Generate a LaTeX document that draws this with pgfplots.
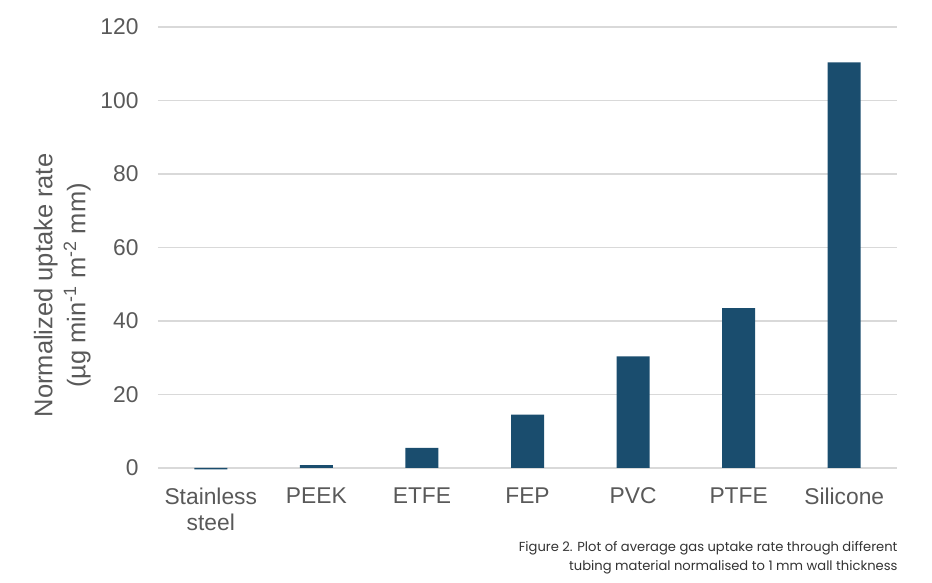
\documentclass[border=0pt]{standalone}
\usepackage{pgfplots}
\pgfplotsset{compat=1.18}
\usepackage{fontspec}
\setmainfont{Liberation Sans}
\newfontfamily\capfont{Poppins}
\definecolor{barc}{HTML}{1A4D6E}
\definecolor{txt}{HTML}{595959}
\definecolor{gridc}{HTML}{D9D9D9}
\begin{document}
\begin{tikzpicture}
\useasboundingbox (0pt,0pt) rectangle (932pt,583pt);
\begin{axis}[
  at={(158pt,115pt)}, anchor=south west,
  scale only axis, width=739pt, height=441pt,
  xmin=-0.5, xmax=6.5, ymin=0, ymax=120,
  ytick={0,20,...,120},
  xtick={0,...,6},
  xticklabels={{Stainless\\steel},PEEK,ETFE,FEP,PVC,PTFE,Silicone},
  xticklabel style={align=center, font=\fontsize{22.8}{26}\selectfont, text=txt, yshift=-16pt},
  yticklabel style={font=\fontsize{22.8}{26}\selectfont, text=txt, xshift=-16pt},
  /pgf/number format/assume math mode=true,
  axis line style={draw=none},
  major tick length=0pt,
  ymajorgrids, grid style={draw=gridc, line width=1.3pt},
  clip=false,
  ylabel={Normalized uptake rate\\(µg min\textsuperscript{-1} m\textsuperscript{-2} mm)},
  ylabel style={align=center, font=\fontsize{25.5}{33}\selectfont, text=txt, yshift=3pt, xshift=-38pt},
]
\addplot[ybar, bar width=33pt, fill=barc, draw=none] coordinates {
 (0,-0.4) (1,0.8) (2,5.5) (3,14.5) (4,30.4) (5,43.5) (6,110.4)
};
\end{axis}
\node[anchor=north east, align=right, font=\capfont\fontsize{13.1}{19}\selectfont, text=black!80] at (901pt,45pt) {Figure 2. Plot of average gas uptake rate through different\\tubing material normalised to 1 mm wall thickness};
\end{tikzpicture}
\end{document}
